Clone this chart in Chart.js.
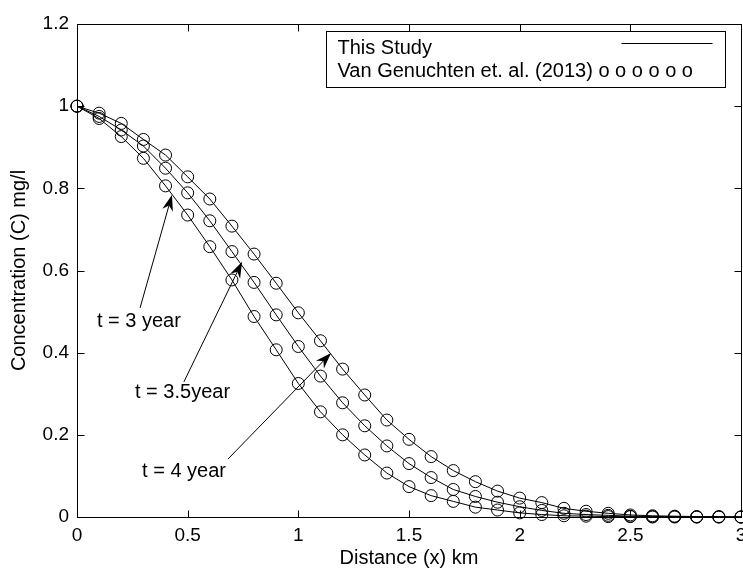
<!DOCTYPE html>
<html>
<head>
<meta charset="utf-8">
<title>Concentration vs distance</title>
<script src="https://cdn.jsdelivr.net/npm/chart.js@4/dist/chart.umd.min.js"></script>
<style>
  html, body { margin: 0; padding: 0; background: #fff; }
  #wrap { width: 743px; height: 568px; }
</style>
</head>
<body>
<div id="wrap"><canvas id="concChart" width="743" height="568"></canvas></div>
<script>
// distance along the aquifer (km)
const distance = [0, 0.1, 0.2, 0.3, 0.4, 0.5, 0.6, 0.7, 0.8, 0.9, 1.0,
                  1.1, 1.2, 1.3, 1.4, 1.5, 1.6, 1.7, 1.8, 1.9, 2.0,
                  2.1, 2.2, 2.3, 2.4, 2.5, 2.6, 2.7, 2.8, 2.9, 3.0];

// concentration (mg/l) for each time
const concT3 = [1.0, 0.970, 0.926, 0.873, 0.806, 0.735, 0.658, 0.577, 0.488, 0.407, 0.325,
                0.256, 0.200, 0.151, 0.107, 0.074, 0.052, 0.038, 0.024, 0.017, 0.010,
                0.006, 0.003, 0.002, 0.001, 0.001, 0, 0, 0, 0, 0];
const concT35 = [1.0, 0.975, 0.942, 0.903, 0.849, 0.789, 0.721, 0.646, 0.571, 0.492, 0.415,
                 0.343, 0.278, 0.222, 0.173, 0.130, 0.096, 0.067, 0.050, 0.036, 0.025,
                 0.016, 0.009, 0.006, 0.004, 0.002, 0.001, 0.001, 0, 0, 0];
const concT4 = [1.0, 0.983, 0.958, 0.919, 0.881, 0.828, 0.774, 0.708, 0.640, 0.569, 0.497,
                0.429, 0.360, 0.297, 0.236, 0.189, 0.147, 0.113, 0.086, 0.063, 0.046,
                0.035, 0.021, 0.014, 0.009, 0.005, 0.003, 0.002, 0.001, 0.001, 0];

const xTicks = [0, 0.5, 1, 1.5, 2, 2.5, 3];
const xTickLabels = ['0', '0.5', '1', '1.5', '2', '2.5', '3'];
const yTicks = [0, 0.2, 0.4, 0.6, 0.8, 1, 1.2];
const yTickLabels = ['0', '0.2', '0.4', '0.6', '0.8', '1', '1.2'];

const legendLabels = ['This Study', 'Van Genuchten et. al. (2013) o o o o o o'];
const curveLabels = ['t = 3 year', 't = 3.5year', 't = 4 year'];

const FONT = '"Liberation Sans", Arial, Helvetica, sans-serif';

// where the time labels sit and where their arrows point (data units)
const notes = [
  { text: curveLabels[0], at: [0.090, 0.475], from: [0.285, 0.509], to: [0.429, 0.784] },
  { text: curveLabels[1], at: [0.262, 0.302], from: [0.483, 0.329], to: [0.746, 0.621] },
  { text: curveLabels[2], at: [0.294, 0.112], from: [0.682, 0.141], to: [1.148, 0.399] }
];

function points(ys) {
  return distance.map((x, i) => ({ x: x, y: ys[i] }));
}

function tickText(v, ticks, labels) {
  const i = ticks.findIndex(t => Math.abs(t - v) < 1e-6);
  return i >= 0 ? labels[i] : '';
}

const series = [concT3, concT35, concT4];

// solid lines (this study) and open circles (Van Genuchten) on the same values
const datasets = [];
series.forEach(ys => {
  datasets.push({
    data: points(ys),
    borderColor: '#000',
    borderWidth: 1,
    pointRadius: 0,
    tension: 0,
    fill: false,
    clip: false
  });
});
series.forEach(ys => {
  datasets.push({
    data: points(ys),
    showLine: false,
    borderColor: '#000',
    backgroundColor: 'rgba(0,0,0,0)',
    pointStyle: 'circle',
    pointRadius: 6,
    pointBorderWidth: 1,
    pointBorderColor: '#000',
    pointBackgroundColor: 'rgba(0,0,0,0)',
    clip: false
  });
});

function arrow(ctx, x0, y0, x1, y1) {
  const ang = Math.atan2(y1 - y0, x1 - x0);
  const len = 16, half = 5.5, notch = 11;
  const cos = Math.cos(ang), sin = Math.sin(ang);
  ctx.beginPath();
  ctx.moveTo(x0, y0);
  ctx.lineTo(x1 - notch * cos, y1 - notch * sin);
  ctx.stroke();
  ctx.beginPath();
  ctx.moveTo(x1, y1);
  ctx.lineTo(x1 - len * cos + half * sin, y1 - len * sin - half * cos);
  ctx.lineTo(x1 - notch * cos, y1 - notch * sin);
  ctx.lineTo(x1 - len * cos - half * sin, y1 - len * sin + half * cos);
  ctx.closePath();
  ctx.fill();
}

const framePlugin = {
  id: 'frameAndNotes',
  afterDraw(chart) {
    const ctx = chart.ctx;
    const a = chart.chartArea;
    const xs = chart.scales.x, ys = chart.scales.y;
    const tick = 7;
    ctx.save();
    ctx.strokeStyle = '#000';
    ctx.fillStyle = '#000';
    ctx.lineWidth = 1;

    // axes box
    const L = Math.round(a.left) + 0.5, R = Math.round(a.right) + 0.5;
    const T = Math.round(a.top) + 0.5, B = Math.round(a.bottom) + 0.5;
    ctx.strokeRect(L, T, R - L, B - T);

    // inward ticks on all four sides
    ctx.beginPath();
    xTicks.forEach(v => {
      const px = Math.round(xs.getPixelForValue(v)) + 0.5;
      ctx.moveTo(px, B); ctx.lineTo(px, B - tick);
      ctx.moveTo(px, T); ctx.lineTo(px, T + tick);
    });
    yTicks.forEach(v => {
      const py = Math.round(ys.getPixelForValue(v)) + 0.5;
      ctx.moveTo(L, py); ctx.lineTo(L + tick, py);
      ctx.moveTo(R, py); ctx.lineTo(R - tick, py);
    });
    ctx.stroke();

    // x tick labels, centred under each tick (the last one runs off the canvas)
    ctx.font = '19px ' + FONT;
    ctx.textAlign = 'center';
    ctx.textBaseline = 'middle';
    xTicks.forEach((v, i) => {
      ctx.fillText(xTickLabels[i], xs.getPixelForValue(v), B + 18);
    });

    // legend box in the upper right corner
    const bx = Math.round(a.right) - 414.5, by = Math.round(a.top) + 7.5;
    const bw = 399, bh = 56;
    ctx.fillStyle = '#fff';
    ctx.fillRect(bx, by, bw, bh);
    ctx.strokeRect(bx, by, bw, bh);
    ctx.fillStyle = '#000';
    ctx.font = '20px ' + FONT;
    ctx.textAlign = 'left';
    ctx.fillText(legendLabels[0], bx + 11, by + 17);
    ctx.fillText(legendLabels[1], bx + 11, by + 40);
    ctx.beginPath();
    ctx.moveTo(bx + 295, by + 12);
    ctx.lineTo(bx + 386, by + 12);
    ctx.stroke();

    // time labels with arrows
    notes.forEach(n => {
      ctx.fillText(n.text, xs.getPixelForValue(n.at[0]), ys.getPixelForValue(n.at[1]));
      arrow(ctx,
        xs.getPixelForValue(n.from[0]), ys.getPixelForValue(n.from[1]),
        xs.getPixelForValue(n.to[0]), ys.getPixelForValue(n.to[1]));
    });
    ctx.restore();
  }
};

new Chart(document.getElementById('concChart'), {
  type: 'line',
  data: { datasets: datasets },
  options: {
    responsive: false,
    animation: false,
    events: [],
    layout: { autoPadding: false, padding: { left: 0, top: 24, right: 2, bottom: 0 } },
    plugins: {
      legend: { display: false },
      tooltip: { enabled: false }
    },
    scales: {
      x: {
        type: 'linear',
        min: 0,
        max: 3,
        grid: { display: false, drawTicks: false },
        border: { display: false },
        ticks: { display: false, stepSize: 0.5 },
        title: {
          display: true,
          text: 'Distance (x) km',
          color: '#000',
          font: { family: FONT, size: 20, lineHeight: 1 },
          padding: { top: 0, bottom: 0 }
        },
        afterFit(scale) {
          scale.height = 51;
        }
      },
      y: {
        type: 'linear',
        min: 0,
        max: 1.2,
        grid: { display: false, drawTicks: false },
        border: { display: false },
        ticks: {
          stepSize: 0.2,
          padding: 8,
          color: '#000',
          font: { family: FONT, size: 19 },
          callback: v => tickText(v, yTicks, yTickLabels)
        },
        title: {
          display: true,
          text: 'Concentration (C) mg/l',
          color: '#000',
          font: { family: FONT, size: 20, lineHeight: 1 },
          padding: { top: 9, bottom: 0 }
        },
        afterFit(scale) {
          scale.width = 77;
          scale.paddingTop = 0;
          scale.paddingBottom = 0;
        }
      }
    }
  },
  plugins: [framePlugin]
});
</script>
</body>
</html>
